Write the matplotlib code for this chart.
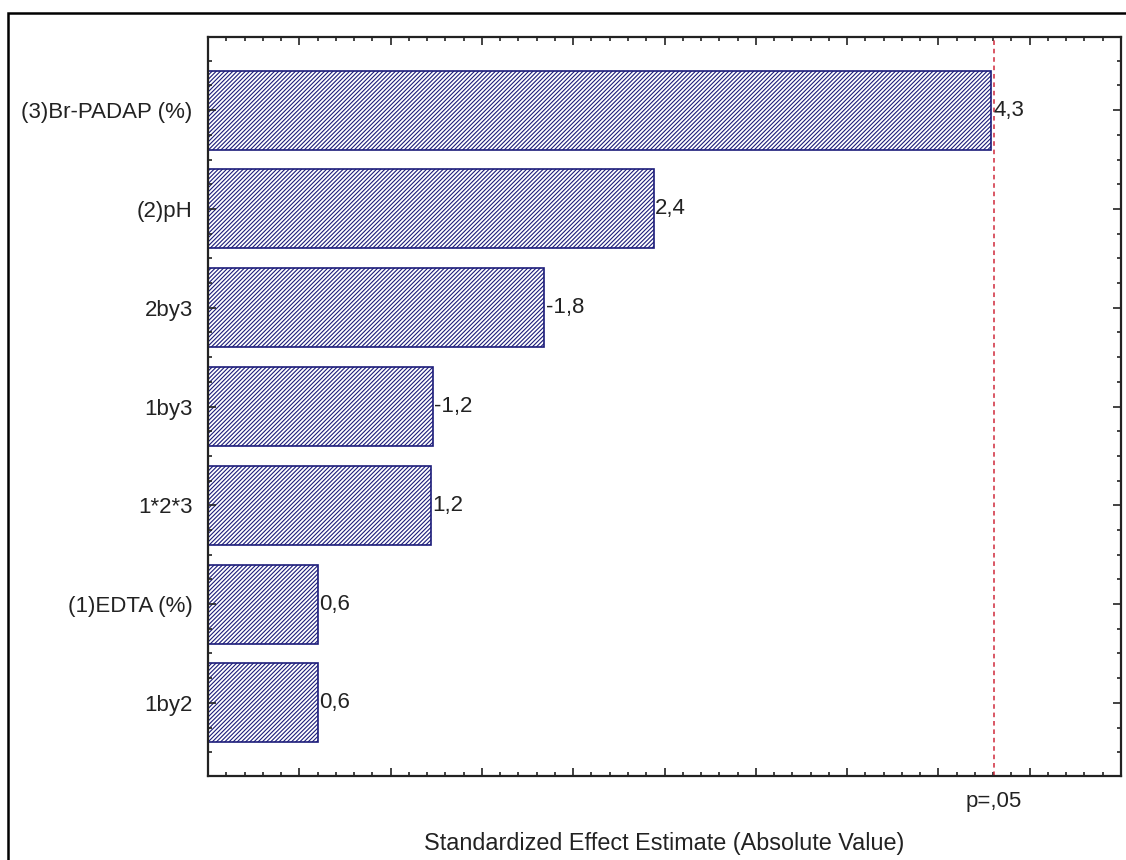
import matplotlib
matplotlib.use("Agg")
import matplotlib.pyplot as plt
from matplotlib.patches import Rectangle
from matplotlib.ticker import MultipleLocator

# Pareto chart of standardized effects
factors = ["(3)Br-PADAP (%)", "(2)pH", "2by3", "1by3", "1*2*3", "(1)EDTA (%)", "1by2"]
effects = [4.29, 2.44, -1.84, -1.23, 1.22, 0.60, 0.60]
p_crit = 4.303
p_label = "p=,05"
x_title = "Standardized Effect Estimate (Absolute Value)"

plt.rcParams["font.family"] = ["Liberation Sans", "DejaVu Sans"]
plt.rcParams["hatch.linewidth"] = 0.8
plt.rcParams["hatch.color"] = "#1c1c7a"

fig = plt.figure(figsize=(11.26, 8.6), dpi=100)
ax = fig.add_axes([208 / 1126, 1 - 776 / 860, (1121 - 208) / 1126, (776 - 37) / 860])

navy = "#1c1c7a"
txt = "#222222"
ypos = list(range(len(factors)))
mags = [abs(v) for v in effects]
ax.barh(ypos, mags, height=0.8, color="white", edgecolor=navy,
        linewidth=1.2, hatch="////////")

for y, v, m in zip(ypos, effects, mags):
    ax.text(m + 0.01, y, f"{v:.1f}".replace(".", ","), ha="left", va="center",
            fontsize=16, color=txt)

ax.axvline(p_crit, color="#d0283a", linestyle=(0, (3, 2.5)), linewidth=1.1)
ax.text(p_crit, -0.035, p_label, transform=ax.get_xaxis_transform(),
        ha="center", va="center", fontsize=16, color=txt)

ax.set_xlim(0, 5)
ax.set_ylim(6.74, -0.74)
ax.set_yticks(ypos)
ax.set_yticklabels(factors, fontsize=16, color=txt)
ax.xaxis.set_major_locator(MultipleLocator(0.5))
ax.xaxis.set_minor_locator(MultipleLocator(0.1))
ax.yaxis.set_minor_locator(MultipleLocator(0.25))
ax.tick_params(axis="x", which="both", labelbottom=False)
ax.tick_params(which="both", direction="in", top=True, right=True,
               color=txt, width=1.2)
ax.tick_params(which="major", length=6)
ax.tick_params(which="minor", length=3)
ax.tick_params(axis="y", which="major", pad=11)

for s in ax.spines.values():
    s.set_linewidth(1.6)
    s.set_color(txt)

ax.set_xlabel(x_title, fontsize=16.8, color=txt, labelpad=40)

# frame around the whole figure
fig.add_artist(Rectangle((8 / 1126, -0.2), 1.2, 1 - 13 / 860 + 0.2,
                         transform=fig.transFigure, fill=False,
                         edgecolor="black", linewidth=1.8))

fig.savefig("out.png", dpi=100)
